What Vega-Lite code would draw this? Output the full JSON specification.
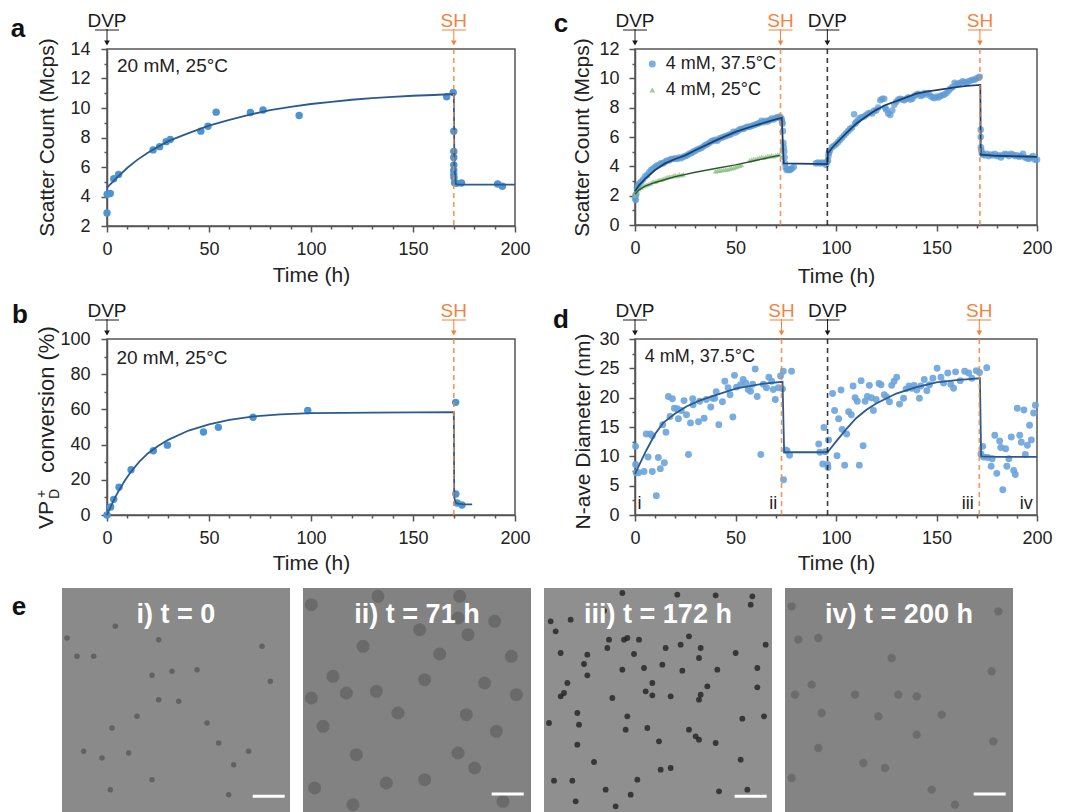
{"$schema":"https://vega.github.io/schema/vega-lite/v6.json","background":"white","padding":{"left":10,"top":10,"right":0,"bottom":0},"spacing":14,
"config":{"font":"Liberation Sans","text":{"font":"Liberation Sans","color":"#222"},"view":{"stroke":"#555","strokeWidth":1.5},"axis":{"grid":false,"labelFont":"Liberation Sans","titleFont":"Liberation Sans","labelFontSize":18,"titleFontSize":21,"titleFontWeight":"normal","labelColor":"#222","titleColor":"#222","domainColor":"#555","tickColor":"#555","domainWidth":1.5,"tickWidth":1.5,"tickSize":6,"labelPadding":8,"labelAngle":0,"labelFlush":false,"labelOverlap":false}},
"datasets":{
"annA":[{"t":0,"label":"DVP","kind":"dvp"},{"t":170,"label":"SH","kind":"sh"}],
"annC":[{"t":0,"label":"DVP","kind":"dvp"},{"t":72.4,"label":"SH","kind":"sh"},{"t":95.7,"label":"DVP","kind":"dvp"},{"t":171.6,"label":"SH","kind":"sh"}],
"annD":[{"t":0,"label":"DVP","kind":"dvp"},{"t":72.9,"label":"SH","kind":"sh"},{"t":95.8,"label":"DVP","kind":"dvp"},{"t":171.3,"label":"SH","kind":"sh"}],
"ptsA":[{"t":0,"v":2.88},{"t":0.1,"v":4.15},{"t":1.6,"v":4.2},{"t":3.3,"v":5.2},{"t":5.7,"v":5.5},{"t":22.6,"v":7.16},{"t":25.8,"v":7.38},{"t":29,"v":7.72},{"t":31,"v":7.86},{"t":46,"v":8.43},{"t":49.5,"v":8.76},{"t":53.5,"v":9.72},{"t":70.3,"v":9.7},{"t":76.5,"v":9.87},{"t":94.2,"v":9.49},{"t":166.5,"v":10.76},{"t":169.7,"v":11.05},{"t":170,"v":8.43},{"t":170,"v":7.05},{"t":170,"v":6.64},{"t":170,"v":6.14},{"t":170,"v":5.78},{"t":170,"v":5.5},{"t":170.1,"v":5.28},{"t":170.4,"v":4.94},{"t":171.4,"v":4.9},{"t":173.8,"v":4.92},{"t":191.5,"v":4.85},{"t":193.8,"v":4.7}],
"fitA":[{"t":0,"v":4.6},{"t":5,"v":5.3},{"t":10,"v":5.95},{"t":15,"v":6.5},{"t":20,"v":6.97},{"t":25,"v":7.37},{"t":30,"v":7.75},{"t":40,"v":8.3},{"t":50,"v":8.8},{"t":60,"v":9.2},{"t":70,"v":9.55},{"t":80,"v":9.85},{"t":90,"v":10.08},{"t":100,"v":10.27},{"t":110,"v":10.42},{"t":120,"v":10.56},{"t":130,"v":10.67},{"t":140,"v":10.76},{"t":150,"v":10.83},{"t":160,"v":10.88},{"t":170,"v":10.95},{"t":170.3,"v":6},{"t":171,"v":4.85},{"t":172,"v":4.8},{"t":200,"v":4.8}],
"ptsB":[{"t":0,"v":0},{"t":1.8,"v":4.5},{"t":3.3,"v":8.9},{"t":5.9,"v":15.8},{"t":11.8,"v":25.7},{"t":22.7,"v":36.5},{"t":29.6,"v":39.7},{"t":47.3,"v":47.2},{"t":54.6,"v":49.8},{"t":71.6,"v":55.5},{"t":98.4,"v":59.4},{"t":170.9,"v":64},{"t":171,"v":11.9},{"t":171.7,"v":6.8},{"t":174,"v":5.7}],
"fitB":[{"t":0,"v":0},{"t":2,"v":5.2},{"t":4,"v":10},{"t":6,"v":14.3},{"t":9,"v":20},{"t":12,"v":25},{"t":16,"v":30.5},{"t":20,"v":35},{"t":25,"v":39.2},{"t":30,"v":42.7},{"t":40,"v":48},{"t":50,"v":51.5},{"t":60,"v":54},{"t":72,"v":56},{"t":85,"v":57.2},{"t":100,"v":57.9},{"t":130,"v":58.2},{"t":170,"v":58.4},{"t":170.2,"v":10},{"t":171,"v":7},{"t":172,"v":6.5},{"t":175,"v":6},{"t":179,"v":6}],
"ptsC":[{"t":0,"v":1.8},{"t":0.2,"v":2},{"t":0.4,"v":1.7},{"t":0.6,"v":2.1},{"t":1,"v":2.5},{"t":1.5,"v":2.65},{"t":2,"v":2.8},{"t":3,"v":2.95},{"t":4,"v":3.1},{"t":5,"v":3.3},{"t":6,"v":3.4},{"t":7,"v":3.6},{"t":8,"v":3.75},{"t":9,"v":3.85},{"t":10,"v":3.95},{"t":11,"v":4.05},{"t":12,"v":4.1},{"t":13,"v":4.2},{"t":14,"v":4.2},{"t":15,"v":4.3},{"t":16,"v":4.4},{"t":17,"v":4.4},{"t":18,"v":4.5},{"t":19,"v":4.5},{"t":20,"v":4.55},{"t":21,"v":4.5},{"t":22,"v":4.6},{"t":23,"v":4.55},{"t":24,"v":4.65},{"t":25,"v":4.7},{"t":26,"v":4.75},{"t":27,"v":4.85},{"t":28,"v":4.9},{"t":29,"v":5},{"t":30,"v":5.05},{"t":31,"v":5.15},{"t":32,"v":5.2},{"t":33,"v":5.25},{"t":34,"v":5.35},{"t":35,"v":5.45},{"t":36,"v":5.5},{"t":37,"v":5.6},{"t":38,"v":5.7},{"t":39,"v":5.75},{"t":40,"v":5.8},{"t":41,"v":5.75},{"t":42,"v":5.9},{"t":43,"v":5.95},{"t":44,"v":6},{"t":45,"v":6.05},{"t":46,"v":6.1},{"t":47,"v":6.15},{"t":48,"v":6.2},{"t":49,"v":6.35},{"t":50,"v":6.3},{"t":51,"v":6.4},{"t":52,"v":6.5},{"t":53,"v":6.55},{"t":54,"v":6.55},{"t":55,"v":6.65},{"t":56,"v":6.7},{"t":57,"v":6.7},{"t":58,"v":6.75},{"t":59,"v":6.8},{"t":60,"v":6.85},{"t":61,"v":6.9},{"t":62,"v":6.95},{"t":63,"v":7.1},{"t":64,"v":7},{"t":65,"v":7.1},{"t":66,"v":7.05},{"t":67,"v":7.15},{"t":68,"v":7.25},{"t":69,"v":7.2},{"t":70,"v":7.3},{"t":71,"v":7.35},{"t":72,"v":7.4},{"t":72.5,"v":7.3},{"t":73,"v":7.2},{"t":73.2,"v":7},{"t":73.4,"v":6.9},{"t":73.6,"v":6.4},{"t":73.8,"v":5.6},{"t":74,"v":5.3},{"t":74.2,"v":5},{"t":74.4,"v":4.6},{"t":74.6,"v":4.2},{"t":75,"v":3.9},{"t":75.5,"v":3.75},{"t":76,"v":3.8},{"t":76.5,"v":3.75},{"t":77,"v":3.75},{"t":77.5,"v":3.8},{"t":78,"v":3.85},{"t":79,"v":3.95},{"t":90,"v":4.2},{"t":91,"v":4.25},{"t":92,"v":4.2},{"t":93,"v":4.25},{"t":94,"v":4.2},{"t":95,"v":4.1},{"t":95.5,"v":4.3},{"t":96,"v":4.4},{"t":96.2,"v":4.7},{"t":96.4,"v":4.9},{"t":96.6,"v":5},{"t":97,"v":5.1},{"t":98,"v":5.3},{"t":99,"v":5.4},{"t":100,"v":5.5},{"t":101,"v":5.65},{"t":102,"v":5.8},{"t":103,"v":5.95},{"t":104,"v":6.1},{"t":105,"v":6.25},{"t":106,"v":6.4},{"t":107,"v":6.55},{"t":108,"v":6.65},{"t":109,"v":7.55},{"t":109.5,"v":6.9},{"t":110,"v":7},{"t":111,"v":7.15},{"t":112,"v":7.3},{"t":113,"v":7.35},{"t":114,"v":7.4},{"t":115,"v":7.5},{"t":116,"v":7.6},{"t":117,"v":7.65},{"t":118,"v":7.6},{"t":119,"v":7.8},{"t":120,"v":7.8},{"t":121,"v":8},{"t":122,"v":8.5},{"t":123,"v":8.6},{"t":124,"v":8.6},{"t":124.5,"v":8},{"t":125,"v":7.85},{"t":126,"v":7.6},{"t":127,"v":7.5},{"t":128,"v":7.8},{"t":129,"v":8.2},{"t":130,"v":8.4},{"t":131,"v":8.55},{"t":132,"v":8.6},{"t":133,"v":8.55},{"t":134,"v":8.5},{"t":135,"v":8.6},{"t":136,"v":8.7},{"t":137,"v":8.55},{"t":138,"v":8.6},{"t":139,"v":8.8},{"t":140,"v":8.9},{"t":141,"v":8.95},{"t":142,"v":8.8},{"t":143,"v":8.85},{"t":144,"v":9},{"t":145,"v":8.9},{"t":146,"v":9},{"t":147,"v":8.8},{"t":148,"v":8.7},{"t":149,"v":8.65},{"t":150,"v":8.75},{"t":151,"v":8.7},{"t":152,"v":8.8},{"t":153,"v":8.85},{"t":154,"v":8.9},{"t":155,"v":9},{"t":156,"v":9.15},{"t":157,"v":9.3},{"t":158,"v":9.4},{"t":159,"v":9.7},{"t":160,"v":9.6},{"t":161,"v":9.65},{"t":162,"v":9.7},{"t":163,"v":9.8},{"t":164,"v":9.75},{"t":165,"v":9.7},{"t":166,"v":9.8},{"t":167,"v":9.85},{"t":168,"v":9.9},{"t":169,"v":9.9},{"t":170,"v":10},{"t":171,"v":10.05},{"t":171.5,"v":10.1},{"t":172,"v":6.5},{"t":172,"v":6},{"t":172.1,"v":5.3},{"t":172.3,"v":5.1},{"t":172.6,"v":4.9},{"t":173,"v":4.8},{"t":174,"v":4.75},{"t":175,"v":4.85},{"t":176,"v":4.7},{"t":177,"v":4.8},{"t":178,"v":4.75},{"t":179,"v":4.85},{"t":180,"v":4.7},{"t":181,"v":4.75},{"t":182,"v":4.6},{"t":183,"v":4.75},{"t":184,"v":4.85},{"t":185,"v":4.8},{"t":186,"v":4.7},{"t":187,"v":4.85},{"t":188,"v":4.8},{"t":189,"v":4.7},{"t":190,"v":4.75},{"t":191,"v":4.65},{"t":192,"v":4.7},{"t":193,"v":4.85},{"t":194,"v":4.6},{"t":195,"v":4.55},{"t":196,"v":4.5},{"t":197,"v":4.6},{"t":198,"v":4.7},{"t":199,"v":4.45},{"t":200,"v":4.45}],
"greenC":[{"t":0,"v":2},{"t":0.5,"v":2.2},{"t":1,"v":2.35},{"t":2,"v":2.45},{"t":3,"v":2.55},{"t":4,"v":2.65},{"t":5,"v":2.7},{"t":6,"v":2.75},{"t":7,"v":2.8},{"t":8,"v":2.85},{"t":9,"v":2.95},{"t":10,"v":2.95},{"t":11,"v":3},{"t":12,"v":3.1},{"t":13,"v":3.1},{"t":14,"v":3.15},{"t":15,"v":3.2},{"t":16,"v":3.25},{"t":17,"v":3.3},{"t":18,"v":3.3},{"t":19,"v":3.35},{"t":20,"v":3.4},{"t":21,"v":3.35},{"t":22,"v":3.45},{"t":23,"v":3.4},{"t":24,"v":3.45},{"t":40,"v":3.65},{"t":41,"v":3.7},{"t":42,"v":3.7},{"t":43,"v":3.75},{"t":44,"v":3.75},{"t":45,"v":3.8},{"t":46,"v":3.8},{"t":47,"v":3.85},{"t":48,"v":3.9},{"t":49,"v":3.9},{"t":50,"v":3.95},{"t":51,"v":4},{"t":52,"v":4.05},{"t":53,"v":4.1},{"t":57,"v":4.4},{"t":58,"v":4.45},{"t":59,"v":4.5},{"t":60,"v":4.5},{"t":61,"v":4.55},{"t":62,"v":4.6},{"t":63,"v":4.65},{"t":64,"v":4.6},{"t":65,"v":4.65},{"t":66,"v":4.7},{"t":67,"v":4.7},{"t":68,"v":4.75},{"t":69,"v":4.7},{"t":70,"v":4.75},{"t":71,"v":4.8},{"t":72,"v":4.8}],
"fitC":[{"t":0,"v":2.3},{"t":2,"v":2.7},{"t":5,"v":3.15},{"t":10,"v":3.75},{"t":15,"v":4.2},{"t":20,"v":4.5},{"t":25,"v":4.75},{"t":30,"v":5.1},{"t":40,"v":5.75},{"t":50,"v":6.35},{"t":60,"v":6.8},{"t":70,"v":7.2},{"t":73,"v":7.3},{"t":74,"v":4.2},{"t":95.7,"v":4.15},{"t":96,"v":4.9},{"t":98,"v":5.25},{"t":100,"v":5.55},{"t":105,"v":6.25},{"t":110,"v":6.9},{"t":115,"v":7.4},{"t":120,"v":7.85},{"t":125,"v":8.2},{"t":130,"v":8.45},{"t":135,"v":8.7},{"t":140,"v":8.95},{"t":145,"v":9.1},{"t":150,"v":9.2},{"t":155,"v":9.3},{"t":160,"v":9.4},{"t":165,"v":9.48},{"t":171.8,"v":9.55},{"t":172,"v":4.8},{"t":180,"v":4.72},{"t":200,"v":4.65}],
"fitC2":[{"t":0,"v":2.1},{"t":2,"v":2.4},{"t":5,"v":2.65},{"t":10,"v":2.9},{"t":20,"v":3.3},{"t":30,"v":3.6},{"t":40,"v":3.85},{"t":50,"v":4.1},{"t":60,"v":4.4},{"t":70,"v":4.7},{"t":72,"v":4.75}],
"ptsD":[{"t":0.3,"v":11.7},{"t":0.3,"v":8.6},{"t":0.6,"v":7.2},{"t":1.8,"v":7.2},{"t":4.5,"v":7.4},{"t":5.6,"v":13.8},{"t":7.6,"v":13.8},{"t":6.5,"v":9.9},{"t":8.6,"v":7.4},{"t":8.6,"v":13.5},{"t":10.6,"v":3.3},{"t":11.6,"v":9.8},{"t":12.6,"v":7.9},{"t":13.8,"v":15.4},{"t":14.6,"v":8.9},{"t":15.4,"v":14.1},{"t":16.6,"v":20.2},{"t":18.6,"v":19.8},{"t":17.4,"v":16.8},{"t":19.6,"v":18.2},{"t":21,"v":18.1},{"t":21.6,"v":16.4},{"t":23,"v":17.8},{"t":24.4,"v":19.5},{"t":25.6,"v":17.1},{"t":26.6,"v":10.3},{"t":27.6,"v":15.7},{"t":28.7,"v":19.8},{"t":28.9,"v":18.8},{"t":31.6,"v":15.9},{"t":32.2,"v":19.4},{"t":34.4,"v":16.5},{"t":35.5,"v":19.7},{"t":37.7,"v":18.4},{"t":38.7,"v":19.9},{"t":39.7,"v":19.9},{"t":40.4,"v":21},{"t":41.7,"v":15.4},{"t":43.5,"v":19.3},{"t":44.7,"v":22.8},{"t":46.3,"v":21.7},{"t":47.3,"v":20.5},{"t":48.7,"v":16.7},{"t":49.5,"v":23.8},{"t":50.5,"v":21.8},{"t":52.5,"v":22.2},{"t":53.8,"v":23.1},{"t":55.1,"v":22.5},{"t":56.3,"v":21.4},{"t":57.5,"v":21.1},{"t":58.5,"v":22.3},{"t":59.8,"v":24.9},{"t":60.8,"v":20.2},{"t":62.6,"v":10.3},{"t":63.8,"v":22.3},{"t":65.4,"v":21.7},{"t":66.6,"v":23.5},{"t":68,"v":22.8},{"t":68.8,"v":21.4},{"t":69.8,"v":19.7},{"t":71.3,"v":21.7},{"t":72.4,"v":23.7},{"t":73.8,"v":24.5},{"t":73.4,"v":21.5},{"t":77.9,"v":24.5},{"t":73.9,"v":6},{"t":75,"v":11.1},{"t":75.7,"v":10.9},{"t":76.9,"v":10.2},{"t":91.4,"v":12.1},{"t":92,"v":10.7},{"t":93.4,"v":8.7},{"t":94,"v":14.9},{"t":94.7,"v":10.8},{"t":95.8,"v":8.6},{"t":96,"v":8.1},{"t":96.3,"v":12.8},{"t":98.3,"v":20.7},{"t":99.3,"v":17.8},{"t":100.5,"v":10.1},{"t":101.3,"v":16.4},{"t":102.5,"v":21.3},{"t":103,"v":14.6},{"t":104.3,"v":8.5},{"t":105.3,"v":13.8},{"t":106.3,"v":17.6},{"t":107.6,"v":17.1},{"t":108.5,"v":22},{"t":109.5,"v":20},{"t":110.6,"v":19.4},{"t":111.6,"v":8.5},{"t":112.5,"v":22.9},{"t":113.5,"v":11.8},{"t":114.5,"v":19.4},{"t":115.6,"v":20.2},{"t":116.6,"v":22.1},{"t":117.6,"v":20},{"t":118.6,"v":17.8},{"t":120,"v":19.7},{"t":121.4,"v":22.4},{"t":122.4,"v":22.2},{"t":124,"v":20.5},{"t":125.2,"v":20.1},{"t":126.6,"v":19.3},{"t":127.7,"v":22.1},{"t":128.9,"v":22.8},{"t":130.2,"v":23.5},{"t":131.6,"v":18.9},{"t":133.6,"v":19.9},{"t":134.9,"v":21.5},{"t":136.4,"v":22},{"t":137.7,"v":21.6},{"t":138.9,"v":22.1},{"t":140.2,"v":21.3},{"t":141.5,"v":19.9},{"t":142.2,"v":22},{"t":143.9,"v":23.1},{"t":145.2,"v":21.2},{"t":146.5,"v":22.2},{"t":148.2,"v":23.3},{"t":150.3,"v":25},{"t":152.2,"v":23.5},{"t":153.5,"v":22.5},{"t":155.6,"v":24.2},{"t":157.1,"v":22.3},{"t":158.5,"v":21.6},{"t":159.5,"v":24.4},{"t":161.8,"v":22.9},{"t":164,"v":24.5},{"t":166,"v":24.2},{"t":167.6,"v":23.3},{"t":169.8,"v":24.6},{"t":171.4,"v":24.3},{"t":175,"v":25.1},{"t":173,"v":11.7},{"t":172.1,"v":10.4},{"t":173.4,"v":9.9},{"t":175.4,"v":9.8},{"t":177.7,"v":9.6},{"t":177.2,"v":8.3},{"t":179,"v":13.6},{"t":180,"v":7.1},{"t":181.4,"v":12.6},{"t":182,"v":11.5},{"t":183,"v":4.3},{"t":184.4,"v":11.3},{"t":185,"v":8.3},{"t":186,"v":9.6},{"t":187.2,"v":13.3},{"t":188.4,"v":7.6},{"t":189.2,"v":6.9},{"t":190.2,"v":18.2},{"t":191.4,"v":13.6},{"t":192.2,"v":12.4},{"t":193.5,"v":17.9},{"t":194.2,"v":10.3},{"t":195.2,"v":11.9},{"t":196.3,"v":15.3},{"t":197.2,"v":12.8},{"t":198.3,"v":17.4},{"t":199.2,"v":18.7}],
"fitD":[{"t":0,"v":7},{"t":2.5,"v":8.8},{"t":5.6,"v":11},{"t":10,"v":13.8},{"t":14,"v":15.7},{"t":20,"v":17.3},{"t":25.6,"v":18.5},{"t":32,"v":19.5},{"t":39,"v":20.3},{"t":50.5,"v":21.6},{"t":64,"v":22.4},{"t":73.4,"v":22.7},{"t":74.2,"v":10.7},{"t":95.8,"v":10.7},{"t":97,"v":11.2},{"t":100,"v":12.5},{"t":105,"v":14.6},{"t":110,"v":16.5},{"t":115,"v":17.9},{"t":120,"v":19},{"t":130,"v":20.7},{"t":140,"v":21.8},{"t":150,"v":22.6},{"t":160,"v":23},{"t":171.6,"v":23.3},{"t":172.2,"v":10},{"t":180,"v":9.9},{"t":200,"v":9.9}],
"frames":[{"x0":0,"x1":684,"y0":0,"y1":675}],
"spots":[{"p":"i","x":95,"y":205},{"p":"i","x":290,"y":335},{"p":"i","x":225,"y":385},{"p":"i","x":270,"y":262},{"p":"i","x":435,"y":405},{"p":"i","x":65,"y":490},{"p":"i","x":560,"y":490},{"p":"i","x":515,"y":530},{"p":"i","x":150,"y":420},{"p":"i","x":160,"y":115},{"p":"i","x":15,"y":150},{"p":"i","x":290,"y":155},{"p":"i","x":330,"y":250},{"p":"i","x":600,"y":175},{"p":"i","x":470,"y":465},{"p":"i","x":270,"y":575},{"p":"i","x":145,"y":605},{"p":"i","x":500,"y":620},{"p":"i","x":200,"y":495},{"p":"i","x":405,"y":245},{"p":"i","x":120,"y":510},{"p":"i","x":350,"y":340},{"p":"i","x":45,"y":205},{"p":"i","x":625,"y":280},
{"p":"ii","x":225,"y":25},{"p":"ii","x":25,"y":330},{"p":"ii","x":180,"y":175},{"p":"ii","x":410,"y":198},{"p":"ii","x":365,"y":275},{"p":"ii","x":90,"y":265},{"p":"ii","x":220,"y":310},{"p":"ii","x":130,"y":315},{"p":"ii","x":60,"y":415},{"p":"ii","x":160,"y":500},{"p":"ii","x":365,"y":575},{"p":"ii","x":35,"y":600},{"p":"ii","x":150,"y":650},{"p":"ii","x":515,"y":540},{"p":"ii","x":465,"y":495},{"p":"ii","x":580,"y":430},{"p":"ii","x":490,"y":380},{"p":"ii","x":285,"y":375},{"p":"ii","x":625,"y":205},{"p":"ii","x":495,"y":140},{"p":"ii","x":575,"y":100},{"p":"ii","x":350,"y":125},{"p":"ii","x":465,"y":90},{"p":"ii","x":600,"y":640},{"p":"ii","x":250,"y":585},{"p":"ii","x":25,"y":50},{"p":"ii","x":640,"y":320},{"p":"ii","x":470,"y":25},{"p":"ii","x":545,"y":285},
{"p":"iii","x":35,"y":130},{"p":"iii","x":20,"y":100},{"p":"iii","x":80,"y":95},{"p":"iii","x":195,"y":155},{"p":"iii","x":190,"y":180},{"p":"iii","x":250,"y":150},{"p":"iii","x":240,"y":155},{"p":"iii","x":285,"y":155},{"p":"iii","x":435,"y":145},{"p":"iii","x":365,"y":180},{"p":"iii","x":410,"y":170},{"p":"iii","x":470,"y":180},{"p":"iii","x":465,"y":210},{"p":"iii","x":355,"y":230},{"p":"iii","x":300,"y":240},{"p":"iii","x":235,"y":245},{"p":"iii","x":120,"y":228},{"p":"iii","x":130,"y":262},{"p":"iii","x":70,"y":285},{"p":"iii","x":50,"y":325},{"p":"iii","x":60,"y":315},{"p":"iii","x":205,"y":330},{"p":"iii","x":325,"y":285},{"p":"iii","x":305,"y":310},{"p":"iii","x":325,"y":322},{"p":"iii","x":380,"y":325},{"p":"iii","x":470,"y":320},{"p":"iii","x":465,"y":335},{"p":"iii","x":490,"y":295},{"p":"iii","x":520,"y":245},{"p":"iii","x":640,"y":298},{"p":"iii","x":415,"y":248},{"p":"iii","x":100,"y":375},{"p":"iii","x":250,"y":385},{"p":"iii","x":15,"y":405},{"p":"iii","x":105,"y":410},{"p":"iii","x":310,"y":420},{"p":"iii","x":245,"y":425},{"p":"iii","x":345,"y":460},{"p":"iii","x":100,"y":470},{"p":"iii","x":435,"y":425},{"p":"iii","x":455,"y":445},{"p":"iii","x":465,"y":455},{"p":"iii","x":515,"y":465},{"p":"iii","x":660,"y":385},{"p":"iii","x":595,"y":392},{"p":"iii","x":150,"y":522},{"p":"iii","x":350,"y":545},{"p":"iii","x":380,"y":540},{"p":"iii","x":590,"y":515},{"p":"iii","x":85,"y":578},{"p":"iii","x":185,"y":605},{"p":"iii","x":95,"y":640},{"p":"iii","x":280,"y":575},{"p":"iii","x":525,"y":610},{"p":"iii","x":610,"y":605},{"p":"iii","x":215,"y":655},{"p":"iii","x":260,"y":620},{"p":"iii","x":30,"y":578},{"p":"iii","x":400,"y":20},{"p":"iii","x":235,"y":15},{"p":"iii","x":515,"y":22},{"p":"iii","x":625,"y":25},{"p":"iii","x":620,"y":50},{"p":"iii","x":665,"y":170},{"p":"iii","x":575,"y":195},{"p":"iii","x":270,"y":198},{"p":"iii","x":50,"y":195},{"p":"iii","x":130,"y":200},{"p":"iii","x":180,"y":68},{"p":"iii","x":640,"y":240},
{"p":"iv","x":80,"y":290},{"p":"iv","x":280,"y":385},{"p":"iv","x":100,"y":480},{"p":"iv","x":395,"y":440},{"p":"iv","x":625,"y":460},{"p":"iv","x":235,"y":525},{"p":"iv","x":320,"y":210},{"p":"iv","x":210,"y":320},{"p":"iv","x":395,"y":325},{"p":"iv","x":110,"y":375},{"p":"iv","x":30,"y":320},{"p":"iv","x":510,"y":650},{"p":"iv","x":20,"y":570},{"p":"iv","x":300,"y":540},{"p":"iv","x":440,"y":605},{"p":"iv","x":470,"y":380},{"p":"iv","x":620,"y":250},{"p":"iv","x":40,"y":155},{"p":"iv","x":100,"y":150},{"p":"iv","x":640,"y":70},{"p":"iv","x":20,"y":55},{"p":"iv","x":340,"y":320}]
},
"vconcat":[
{"hconcat":[
{"width":408,"height":177,"resolve":{"axis":{"x":"independent","y":"independent"}},"layer":[
{"data":{"name":"ptsA"},"mark":{"type":"circle","size":55,"color":"#4f94d2","opacity":1},"encoding":{"x":{"field":"t","type":"quantitative","scale":{"domain":[0,200]},"axis":{"orient":"bottom","values":[10,20,30,40,60,70,80,90,110,120,130,140,160,170,180,190],"labels":false,"title":null,"domain":false,"tickSize":3}},"y":{"field":"v","type":"quantitative","scale":{"domain":[2,14]},"axis":{"orient":"left","values":[3,5,7,9,11,13],"labels":false,"title":null,"domain":false,"tickSize":3}}}},
{"data":{"name":"fitA"},"mark":{"type":"line","color":"#2a5a8e","strokeWidth":1.8},"encoding":{"x":{"field":"t","type":"quantitative","axis":{"orient":"bottom","values":[0,50,100,150,200],"title":"Time (h)","titleX":204,"titleY":49,"titleBaseline":"middle"}},"y":{"field":"v","type":"quantitative","axis":{"orient":"left","values":[2,4,6,8,10,12,14],"labelPadding":11,"title":"Scatter Count (Mcps)","titleX":-60,"titleY":88,"titleBaseline":"middle"}}}},
{"data":{"name":"annA"},"transform":[{"filter":"datum.t>0"}],"mark":{"type":"rule","strokeDash":[5,4],"strokeWidth":1.6,"opacity":0.85},"encoding":{"x":{"field":"t","type":"quantitative","axis":null},"color":{"field":"kind","type":"nominal","scale":{"domain":["dvp","sh"],"range":["#1a1a1a","#f0843f"]},"legend":null}}},
{"data":{"name":"annA"},"mark":{"type":"rule","yOffset":-20,"y2Offset":-6,"strokeWidth":1},"encoding":{"x":{"field":"t","type":"quantitative","axis":null},"y":{"datum":14,"type":"quantitative","axis":null},"y2":{"datum":14},"color":{"field":"kind","type":"nominal","legend":null}}},
{"data":{"name":"annA"},"mark":{"type":"point","shape":"triangle-down","filled":true,"opacity":1,"size":32,"yOffset":-6},"encoding":{"x":{"field":"t","type":"quantitative","axis":null},"y":{"datum":14,"type":"quantitative","axis":null},"color":{"field":"kind","type":"nominal","legend":null}}},
{"data":{"name":"annA"},"mark":{"type":"rule","xOffset":-12,"x2Offset":12,"yOffset":-19,"strokeWidth":1},"encoding":{"x":{"field":"t","type":"quantitative","axis":null},"x2":{"field":"t"},"y":{"datum":14,"type":"quantitative","axis":null},"color":{"field":"kind","type":"nominal","legend":null}}},
{"data":{"name":"annA"},"mark":{"type":"text","fontSize":19,"yOffset":-28,"baseline":"middle"},"encoding":{"x":{"field":"t","type":"quantitative","axis":null},"y":{"datum":14,"type":"quantitative","axis":null},"text":{"field":"label"},"color":{"field":"kind","type":"nominal","legend":null}}},
{"data":{"values":[{"t":4.9,"v":12.82,"label":"20 mM, 25°C"}]},"mark":{"type":"text","align":"left","baseline":"middle","fontSize":19},"encoding":{"x":{"field":"t","type":"quantitative","axis":null},"y":{"field":"v","type":"quantitative","axis":null},"text":{"field":"label"}}},
{"data":{"values":[{"label":"a"}]},"mark":{"type":"text","fontSize":26,"fontWeight":"bold","xOffset":-89,"yOffset":-20,"baseline":"middle","color":"#111"},"encoding":{"x":{"datum":0,"type":"quantitative","axis":null},"y":{"datum":14,"type":"quantitative","axis":null},"text":{"field":"label"}}}
]},
{"width":402,"height":176,"resolve":{"axis":{"x":"independent","y":"independent"}},"layer":[
{"data":{"name":"ptsC"},"mark":{"type":"circle","size":44,"color":"#5b9bd5","opacity":0.75},"encoding":{"x":{"field":"t","type":"quantitative","scale":{"domain":[0,200]},"axis":{"orient":"bottom","values":[10,20,30,40,60,70,80,90,110,120,130,140,160,170,180,190],"labels":false,"title":null,"domain":false,"tickSize":3}},"y":{"field":"v","type":"quantitative","scale":{"domain":[0,12]},"axis":{"orient":"left","values":[1,3,5,7,9,11],"labels":false,"title":null,"domain":false,"tickSize":3}}}},
{"data":{"name":"greenC"},"mark":{"type":"point","shape":"triangle-up","filled":true,"size":30,"color":"#86bd7e","opacity":0.7},"encoding":{"x":{"field":"t","type":"quantitative","axis":null},"y":{"field":"v","type":"quantitative","axis":null}}},
{"data":{"name":"fitC"},"mark":{"type":"line","color":"#1d3f6e","strokeWidth":1.8},"encoding":{"x":{"field":"t","type":"quantitative","axis":{"orient":"bottom","values":[0,50,100,150,200],"title":"Time (h)","titleX":201,"titleY":51,"titleBaseline":"middle"}},"y":{"field":"v","type":"quantitative","axis":{"orient":"left","values":[0,2,4,6,8,10,12],"labelPadding":10,"title":"Scatter Count (Mcps)","titleX":-53,"titleY":88,"titleBaseline":"middle"}}}},
{"data":{"name":"fitC2"},"mark":{"type":"line","color":"#2c5a2c","strokeWidth":1.4},"encoding":{"x":{"field":"t","type":"quantitative","axis":null},"y":{"field":"v","type":"quantitative","axis":null}}},
{"data":{"name":"annC"},"transform":[{"filter":"datum.t>0"}],"mark":{"type":"rule","strokeDash":[5,4],"strokeWidth":1.6,"opacity":0.85},"encoding":{"x":{"field":"t","type":"quantitative","axis":null},"color":{"field":"kind","type":"nominal","scale":{"domain":["dvp","sh"],"range":["#1a1a1a","#f0843f"]},"legend":null}}},
{"data":{"name":"annC"},"mark":{"type":"rule","yOffset":-20,"y2Offset":-6,"strokeWidth":1},"encoding":{"x":{"field":"t","type":"quantitative","axis":null},"y":{"datum":12,"type":"quantitative","axis":null},"y2":{"datum":12},"color":{"field":"kind","type":"nominal","legend":null}}},
{"data":{"name":"annC"},"mark":{"type":"point","shape":"triangle-down","filled":true,"opacity":1,"size":32,"yOffset":-6},"encoding":{"x":{"field":"t","type":"quantitative","axis":null},"y":{"datum":12,"type":"quantitative","axis":null},"color":{"field":"kind","type":"nominal","legend":null}}},
{"data":{"name":"annC"},"mark":{"type":"rule","xOffset":-12,"x2Offset":12,"yOffset":-19,"strokeWidth":1},"encoding":{"x":{"field":"t","type":"quantitative","axis":null},"x2":{"field":"t"},"y":{"datum":12,"type":"quantitative","axis":null},"color":{"field":"kind","type":"nominal","legend":null}}},
{"data":{"name":"annC"},"mark":{"type":"text","fontSize":19,"yOffset":-28,"baseline":"middle"},"encoding":{"x":{"field":"t","type":"quantitative","axis":null},"y":{"datum":12,"type":"quantitative","axis":null},"text":{"field":"label"},"color":{"field":"kind","type":"nominal","legend":null}}},
{"data":{"values":[{"t":15.3,"v":10.98,"label":"4 mM, 37.5°C"},{"t":15.3,"v":9.2,"label":"4 mM, 25°C"}]},"mark":{"type":"text","align":"left","baseline":"middle","fontSize":18},"encoding":{"x":{"field":"t","type":"quantitative","axis":null},"y":{"field":"v","type":"quantitative","axis":null},"text":{"field":"label"}}},
{"data":{"values":[{"t":8.6,"v":10.98}]},"mark":{"type":"circle","size":48,"color":"#5b9bd5","opacity":0.8},"encoding":{"x":{"field":"t","type":"quantitative","axis":null},"y":{"field":"v","type":"quantitative","axis":null}}},
{"data":{"values":[{"t":8.6,"v":9.2}]},"mark":{"type":"point","shape":"triangle-up","filled":true,"size":32,"color":"#86bd7e","opacity":0.8},"encoding":{"x":{"field":"t","type":"quantitative","axis":null},"y":{"field":"v","type":"quantitative","axis":null}}},
{"data":{"values":[{"label":"c"}]},"mark":{"type":"text","fontSize":26,"fontWeight":"bold","xOffset":-74,"yOffset":-25,"baseline":"middle","color":"#111"},"encoding":{"x":{"datum":0,"type":"quantitative","axis":null},"y":{"datum":12,"type":"quantitative","axis":null},"text":{"field":"label"}}}
]}
],"spacing":22},
{"hconcat":[
{"width":408,"height":176,"resolve":{"axis":{"x":"independent","y":"independent"}},"layer":[
{"data":{"name":"ptsB"},"mark":{"type":"circle","size":55,"color":"#4f94d2","opacity":1},"encoding":{"x":{"field":"t","type":"quantitative","scale":{"domain":[0,200]},"axis":{"orient":"bottom","values":[10,20,30,40,60,70,80,90,110,120,130,140,160,170,180,190],"labels":false,"title":null,"domain":false,"tickSize":3}},"y":{"field":"v","type":"quantitative","scale":{"domain":[0,100]},"axis":{"orient":"left","values":[10,30,50,70,90],"labels":false,"title":null,"domain":false,"tickSize":3}}}},
{"data":{"name":"fitB"},"mark":{"type":"line","color":"#2a5a8e","strokeWidth":1.8},"encoding":{"x":{"field":"t","type":"quantitative","axis":{"orient":"bottom","values":[0,50,100,150,200],"title":"Time (h)","titleX":204,"titleY":48,"titleBaseline":"middle"}},"y":{"field":"v","type":"quantitative","axis":{"orient":"left","values":[0,20,40,60,80,100],"labelPadding":11,"title":null}}}},
{"data":{"name":"annA"},"transform":[{"filter":"datum.t>0"}],"mark":{"type":"rule","strokeDash":[5,4],"strokeWidth":1.6,"opacity":0.85},"encoding":{"x":{"field":"t","type":"quantitative","axis":null},"color":{"field":"kind","type":"nominal","scale":{"domain":["dvp","sh"],"range":["#1a1a1a","#f0843f"]},"legend":null}}},
{"data":{"name":"annA"},"mark":{"type":"rule","yOffset":-20,"y2Offset":-6,"strokeWidth":1},"encoding":{"x":{"field":"t","type":"quantitative","axis":null},"y":{"datum":100,"type":"quantitative","axis":null},"y2":{"datum":100},"color":{"field":"kind","type":"nominal","legend":null}}},
{"data":{"name":"annA"},"mark":{"type":"point","shape":"triangle-down","filled":true,"opacity":1,"size":32,"yOffset":-6},"encoding":{"x":{"field":"t","type":"quantitative","axis":null},"y":{"datum":100,"type":"quantitative","axis":null},"color":{"field":"kind","type":"nominal","legend":null}}},
{"data":{"name":"annA"},"mark":{"type":"rule","xOffset":-12,"x2Offset":12,"yOffset":-19,"strokeWidth":1},"encoding":{"x":{"field":"t","type":"quantitative","axis":null},"x2":{"field":"t"},"y":{"datum":100,"type":"quantitative","axis":null},"color":{"field":"kind","type":"nominal","legend":null}}},
{"data":{"name":"annA"},"mark":{"type":"text","fontSize":19,"yOffset":-28,"baseline":"middle"},"encoding":{"x":{"field":"t","type":"quantitative","axis":null},"y":{"datum":100,"type":"quantitative","axis":null},"text":{"field":"label"},"color":{"field":"kind","type":"nominal","legend":null}}},
{"data":{"values":[{"t":4.6,"v":89.2,"label":"20 mM, 25°C"}]},"mark":{"type":"text","align":"left","baseline":"middle","fontSize":19},"encoding":{"x":{"field":"t","type":"quantitative","axis":null},"y":{"field":"v","type":"quantitative","axis":null},"text":{"field":"label"}}},
{"data":{"values":[{"label":"VP"}]},"mark":{"type":"text","fontSize":21,"angle":270,"align":"left","baseline":"middle","xOffset":-60,"yOffset":14},"encoding":{"x":{"datum":0,"type":"quantitative","axis":null},"y":{"datum":0,"type":"quantitative","axis":null},"text":{"field":"label"}}},
{"data":{"values":[{"label":"D"}]},"mark":{"type":"text","fontSize":14,"angle":270,"align":"left","baseline":"middle","xOffset":-52,"yOffset":-16},"encoding":{"x":{"datum":0,"type":"quantitative","axis":null},"y":{"datum":0,"type":"quantitative","axis":null},"text":{"field":"label"}}},
{"data":{"values":[{"label":"+"}]},"mark":{"type":"text","fontSize":14,"angle":270,"align":"left","baseline":"middle","xOffset":-65,"yOffset":-17},"encoding":{"x":{"datum":0,"type":"quantitative","axis":null},"y":{"datum":0,"type":"quantitative","axis":null},"text":{"field":"label"}}},
{"data":{"values":[{"label":"conversion (%)"}]},"mark":{"type":"text","fontSize":22,"angle":270,"align":"left","baseline":"middle","xOffset":-60,"yOffset":-42},"encoding":{"x":{"datum":0,"type":"quantitative","axis":null},"y":{"datum":0,"type":"quantitative","axis":null},"text":{"field":"label"}}},
{"data":{"values":[{"label":"b"}]},"mark":{"type":"text","fontSize":26,"fontWeight":"bold","xOffset":-87,"yOffset":-24,"baseline":"middle","color":"#111"},"encoding":{"x":{"datum":0,"type":"quantitative","axis":null},"y":{"datum":100,"type":"quantitative","axis":null},"text":{"field":"label"}}}
]},
{"width":402,"height":176,"resolve":{"axis":{"x":"independent","y":"independent"}},"layer":[
{"data":{"name":"ptsD"},"mark":{"type":"circle","size":48,"color":"#6ba4dc","opacity":0.9},"encoding":{"x":{"field":"t","type":"quantitative","scale":{"domain":[0,200]},"axis":{"orient":"bottom","values":[10,20,30,40,60,70,80,90,110,120,130,140,160,170,180,190],"labels":false,"title":null,"domain":false,"tickSize":3}},"y":{"field":"v","type":"quantitative","scale":{"domain":[0,30]},"axis":{"orient":"left","values":[2.5,7.5,12.5,17.5,22.5,27.5],"labels":false,"title":null,"domain":false,"tickSize":3}}}},
{"data":{"name":"fitD"},"mark":{"type":"line","color":"#2a5a8e","strokeWidth":1.8},"encoding":{"x":{"field":"t","type":"quantitative","axis":{"orient":"bottom","values":[0,50,100,150,200],"title":"Time (h)","titleX":201,"titleY":48,"titleBaseline":"middle"}},"y":{"field":"v","type":"quantitative","axis":{"orient":"left","values":[0,5,10,15,20,25,30],"labelPadding":10,"title":"N-ave Diameter (nm)","titleX":-52,"titleY":92,"titleBaseline":"middle"}}}},
{"data":{"name":"annD"},"transform":[{"filter":"datum.t>0"}],"mark":{"type":"rule","strokeDash":[5,4],"strokeWidth":1.6,"opacity":0.85},"encoding":{"x":{"field":"t","type":"quantitative","axis":null},"color":{"field":"kind","type":"nominal","scale":{"domain":["dvp","sh"],"range":["#1a1a1a","#f0843f"]},"legend":null}}},
{"data":{"name":"annD"},"mark":{"type":"rule","yOffset":-20,"y2Offset":-6,"strokeWidth":1},"encoding":{"x":{"field":"t","type":"quantitative","axis":null},"y":{"datum":30,"type":"quantitative","axis":null},"y2":{"datum":30},"color":{"field":"kind","type":"nominal","legend":null}}},
{"data":{"name":"annD"},"mark":{"type":"point","shape":"triangle-down","filled":true,"opacity":1,"size":32,"yOffset":-6},"encoding":{"x":{"field":"t","type":"quantitative","axis":null},"y":{"datum":30,"type":"quantitative","axis":null},"color":{"field":"kind","type":"nominal","legend":null}}},
{"data":{"name":"annD"},"mark":{"type":"rule","xOffset":-12,"x2Offset":12,"yOffset":-19,"strokeWidth":1},"encoding":{"x":{"field":"t","type":"quantitative","axis":null},"x2":{"field":"t"},"y":{"datum":30,"type":"quantitative","axis":null},"color":{"field":"kind","type":"nominal","legend":null}}},
{"data":{"name":"annD"},"mark":{"type":"text","fontSize":19,"yOffset":-28,"baseline":"middle"},"encoding":{"x":{"field":"t","type":"quantitative","axis":null},"y":{"datum":30,"type":"quantitative","axis":null},"text":{"field":"label"},"color":{"field":"kind","type":"nominal","legend":null}}},
{"data":{"values":[{"t":4.8,"v":27,"label":"4 mM, 37.5°C"}]},"mark":{"type":"text","align":"left","baseline":"middle","fontSize":18},"encoding":{"x":{"field":"t","type":"quantitative","axis":null},"y":{"field":"v","type":"quantitative","axis":null},"text":{"field":"label"}}},
{"data":{"values":[{"t":2.3,"v":1.8,"label":"i"},{"t":68.8,"v":1.8,"label":"ii"},{"t":165.6,"v":1.8,"label":"iii"},{"t":194.7,"v":1.8,"label":"iv"}]},"mark":{"type":"text","baseline":"middle","fontSize":18},"encoding":{"x":{"field":"t","type":"quantitative","axis":null},"y":{"field":"v","type":"quantitative","axis":null},"text":{"field":"label"}}},
{"data":{"values":[{"label":"d"}]},"mark":{"type":"text","fontSize":26,"fontWeight":"bold","xOffset":-74,"yOffset":-19,"baseline":"middle","color":"#111"},"encoding":{"x":{"datum":0,"type":"quantitative","axis":null},"y":{"datum":30,"type":"quantitative","axis":null},"text":{"field":"label"}}}
]}
],"spacing":21},
{"hconcat":[
{"width":183,"height":225,"view":{"stroke":null},"layer":[
{"data":{"name":"frames"},"mark":{"type":"rect","color":"#8a8a8a"},"encoding":{"x":{"field":"x0","type":"quantitative","scale":{"domain":[135,684],"nice":false},"axis":null},"x2":{"field":"x1"},"y":{"field":"y0","type":"quantitative","scale":{"domain":[0,675],"reverse":true,"nice":false},"axis":null},"y2":{"field":"y1"}}},
{"data":{"name":"spots"},"transform":[{"filter":"datum.p=='i'"}],"mark":{"type":"circle","size":30,"color":"#303030","opacity":0.45},"encoding":{"x":{"field":"x","type":"quantitative","axis":null},"y":{"field":"y","type":"quantitative","axis":null}}},
{"data":{"values":[{"label":"bar"}]},"mark":{"type":"rule","color":"white","strokeWidth":3},"encoding":{"x":{"datum":572,"type":"quantitative","axis":null},"x2":{"datum":668},"y":{"datum":625,"type":"quantitative","axis":null}}},
{"data":{"values":[{"label":"i) t = 0"}]},"mark":{"type":"text","fontSize":27,"fontWeight":"bold","color":"white","baseline":"middle"},"encoding":{"x":{"datum":342,"type":"quantitative","axis":null},"y":{"datum":80,"type":"quantitative","axis":null},"text":{"field":"label"}}},
{"data":{"values":[{"label":"e"}]},"mark":{"type":"text","fontSize":26,"fontWeight":"bold","xOffset":-43,"baseline":"middle","color":"#111"},"encoding":{"x":{"datum":0,"type":"quantitative","axis":null},"y":{"datum":57,"type":"quantitative","axis":null},"text":{"field":"label"}}}
]},
{"width":228,"height":225,"view":{"fill":"#828282","stroke":null},"layer":[
{"data":{"name":"spots"},"transform":[{"filter":"datum.p=='ii'"}],"mark":{"type":"circle","size":170,"color":"#303030","opacity":0.28},"encoding":{"x":{"field":"x","type":"quantitative","scale":{"domain":[0,684],"nice":false},"axis":null},"y":{"field":"y","type":"quantitative","scale":{"domain":[0,675],"reverse":true,"nice":false},"axis":null}}},
{"data":{"values":[{"label":"bar"}]},"mark":{"type":"rule","color":"white","strokeWidth":3},"encoding":{"x":{"datum":566,"type":"quantitative","axis":null},"x2":{"datum":662},"y":{"datum":618,"type":"quantitative","axis":null}}},
{"data":{"values":[{"label":"ii) t = 71 h"}]},"mark":{"type":"text","fontSize":27,"fontWeight":"bold","color":"white","baseline":"middle"},"encoding":{"x":{"datum":342,"type":"quantitative","axis":null},"y":{"datum":80,"type":"quantitative","axis":null},"text":{"field":"label"}}}
]},
{"width":228,"height":225,"view":{"fill":"#8f8f8f","stroke":null},"layer":[
{"data":{"name":"spots"},"transform":[{"filter":"datum.p=='iii'"}],"mark":{"type":"circle","size":34,"color":"#202020","opacity":0.8},"encoding":{"x":{"field":"x","type":"quantitative","scale":{"domain":[0,684],"nice":false},"axis":null},"y":{"field":"y","type":"quantitative","scale":{"domain":[0,675],"reverse":true,"nice":false},"axis":null}}},
{"data":{"values":[{"label":"bar"}]},"mark":{"type":"rule","color":"white","strokeWidth":3},"encoding":{"x":{"datum":572,"type":"quantitative","axis":null},"x2":{"datum":668},"y":{"datum":625,"type":"quantitative","axis":null}}},
{"data":{"values":[{"label":"iii) t = 172 h"}]},"mark":{"type":"text","fontSize":27,"fontWeight":"bold","color":"white","baseline":"middle"},"encoding":{"x":{"datum":342,"type":"quantitative","axis":null},"y":{"datum":80,"type":"quantitative","axis":null},"text":{"field":"label"}}}
]},
{"width":228,"height":225,"view":{"fill":"#848484","stroke":null},"layer":[
{"data":{"name":"spots"},"transform":[{"filter":"datum.p=='iv'"}],"mark":{"type":"circle","size":70,"color":"#303030","opacity":0.28},"encoding":{"x":{"field":"x","type":"quantitative","scale":{"domain":[0,684],"nice":false},"axis":null},"y":{"field":"y","type":"quantitative","scale":{"domain":[0,675],"reverse":true,"nice":false},"axis":null}}},
{"data":{"values":[{"label":"bar"}]},"mark":{"type":"rule","color":"white","strokeWidth":3},"encoding":{"x":{"datum":566,"type":"quantitative","axis":null},"x2":{"datum":662},"y":{"datum":618,"type":"quantitative","axis":null}}},
{"data":{"values":[{"label":"iv) t = 200 h"}]},"mark":{"type":"text","fontSize":27,"fontWeight":"bold","color":"white","baseline":"middle"},"encoding":{"x":{"datum":342,"type":"quantitative","axis":null},"y":{"datum":80,"type":"quantitative","axis":null},"text":{"field":"label"}}}
]}
],"spacing":13}
]}
